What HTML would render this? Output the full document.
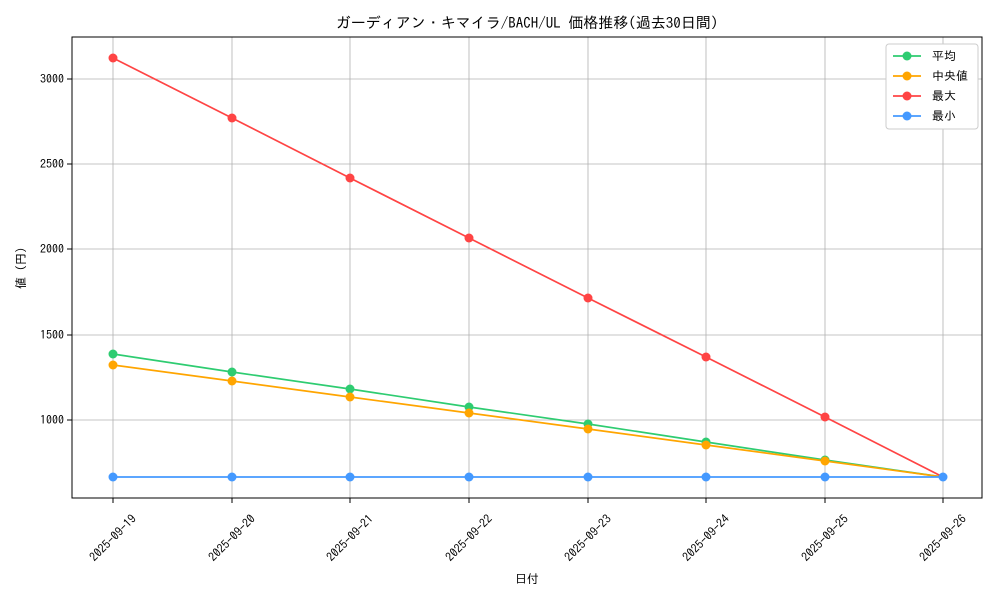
<!DOCTYPE html>
<html><head><meta charset="utf-8"><style>
body{margin:0;background:#fff}
svg text{font-family:"IPAGothic","Noto Sans CJK JP",monospace;fill:#000}
</style></head><body>
<svg width="1000" height="600" xmlns="http://www.w3.org/2000/svg">
<rect width="1000" height="600" fill="#fff"/>
<text x="527" y="28" font-size="15" text-anchor="middle">ガーディアン・キマイラ/BACH/UL 価格推移(過去30日間)</text>
<g stroke="#b0b0b0" stroke-width="0.8">
<line x1="113" y1="37" x2="113" y2="498"/><line x1="232" y1="37" x2="232" y2="498"/><line x1="350" y1="37" x2="350" y2="498"/><line x1="469" y1="37" x2="469" y2="498"/><line x1="588" y1="37" x2="588" y2="498"/><line x1="706" y1="37" x2="706" y2="498"/><line x1="825" y1="37" x2="825" y2="498"/><line x1="943" y1="37" x2="943" y2="498"/>
<line x1="72" y1="79" x2="982" y2="79"/><line x1="72" y1="164" x2="982" y2="164"/><line x1="72" y1="249" x2="982" y2="249"/><line x1="72" y1="335" x2="982" y2="335"/><line x1="72" y1="420" x2="982" y2="420"/>
</g>
<rect x="72" y="37" width="910" height="461" fill="none" stroke="#000" stroke-width="1"/>
<g stroke="#000"><line x1="67" y1="79" x2="72" y2="79"/><line x1="67" y1="164" x2="72" y2="164"/><line x1="67" y1="249" x2="72" y2="249"/><line x1="67" y1="335" x2="72" y2="335"/><line x1="67" y1="420" x2="72" y2="420"/>
<line x1="113" y1="498" x2="113" y2="503"/><line x1="232" y1="498" x2="232" y2="503"/><line x1="350" y1="498" x2="350" y2="503"/><line x1="469" y1="498" x2="469" y2="503"/><line x1="588" y1="498" x2="588" y2="503"/><line x1="706" y1="498" x2="706" y2="503"/><line x1="825" y1="498" x2="825" y2="503"/><line x1="943" y1="498" x2="943" y2="503"/></g>
<g font-size="12" text-anchor="end"><text x="64" y="83">3000</text><text x="64" y="168">2500</text><text x="64" y="253">2000</text><text x="64" y="339">1500</text><text x="64" y="424">1000</text></g>
<g font-size="12" text-anchor="middle">
<text transform="translate(113,538) rotate(-45)" dy="4">2025-09-19</text>
<text transform="translate(232,538) rotate(-45)" dy="4">2025-09-20</text>
<text transform="translate(350,538) rotate(-45)" dy="4">2025-09-21</text>
<text transform="translate(469,538) rotate(-45)" dy="4">2025-09-22</text>
<text transform="translate(588,538) rotate(-45)" dy="4">2025-09-23</text>
<text transform="translate(706,538) rotate(-45)" dy="4">2025-09-24</text>
<text transform="translate(825,538) rotate(-45)" dy="4">2025-09-25</text>
<text transform="translate(943,538) rotate(-45)" dy="4">2025-09-26</text>
</g>
<text x="527" y="583" font-size="12" text-anchor="middle">日付</text>
<text transform="translate(25,268) rotate(-90)" font-size="12" text-anchor="middle">値 (円)</text>
<g fill="none" stroke-width="1.7">
<polyline stroke="#ff4444" points="113,58 232,118 350,178 469,238 588,298 706,357 825,417 943,477"/>
<polyline stroke="#2ecc71" points="113,354 232,372 350,389 469,407 588,424 706,442 825,460 943,477"/>
<polyline stroke="#ffa500" points="113,365 232,381 350,397 469,413 588,429 706,445 825,461 943,477"/>
<polyline stroke="#4499ff" points="113,477 943,477"/>
</g>
<g fill="#ff4444"><circle cx="113" cy="58" r="4.5"/><circle cx="232" cy="118" r="4.5"/><circle cx="350" cy="178" r="4.5"/><circle cx="469" cy="238" r="4.5"/><circle cx="588" cy="298" r="4.5"/><circle cx="706" cy="357" r="4.5"/><circle cx="825" cy="417" r="4.5"/></g>
<g fill="#2ecc71"><circle cx="113" cy="354" r="4.5"/><circle cx="232" cy="372" r="4.5"/><circle cx="350" cy="389" r="4.5"/><circle cx="469" cy="407" r="4.5"/><circle cx="588" cy="424" r="4.5"/><circle cx="706" cy="442" r="4.5"/><circle cx="825" cy="460" r="4.5"/></g>
<g fill="#ffa500"><circle cx="113" cy="365" r="4.5"/><circle cx="232" cy="381" r="4.5"/><circle cx="350" cy="397" r="4.5"/><circle cx="469" cy="413" r="4.5"/><circle cx="588" cy="429" r="4.5"/><circle cx="706" cy="445" r="4.5"/><circle cx="825" cy="461" r="4.5"/></g>
<g fill="#4499ff"><circle cx="113" cy="477" r="4.5"/><circle cx="232" cy="477" r="4.5"/><circle cx="350" cy="477" r="4.5"/><circle cx="469" cy="477" r="4.5"/><circle cx="588" cy="477" r="4.5"/><circle cx="706" cy="477" r="4.5"/><circle cx="825" cy="477" r="4.5"/><circle cx="943" cy="477" r="4.5"/></g>
<rect x="886" y="44" width="92" height="85" rx="3" fill="#fff" stroke="#ccc"/>
<g stroke-width="1.7"><line x1="893" y1="56" x2="921" y2="56" stroke="#2ecc71"/><line x1="893" y1="76" x2="921" y2="76" stroke="#ffa500"/><line x1="893" y1="96" x2="921" y2="96" stroke="#ff4444"/><line x1="893" y1="116" x2="921" y2="116" stroke="#4499ff"/></g>
<circle cx="907" cy="56" r="4.5" fill="#2ecc71"/><circle cx="907" cy="76" r="4.5" fill="#ffa500"/><circle cx="907" cy="96" r="4.5" fill="#ff4444"/><circle cx="907" cy="116" r="4.5" fill="#4499ff"/>
<g font-size="12"><text x="932" y="60">平均</text><text x="932" y="80"> 中央値</text><text x="932" y="100">最大</text><text x="932" y="120">最小</text></g>
</svg>
</body></html>
